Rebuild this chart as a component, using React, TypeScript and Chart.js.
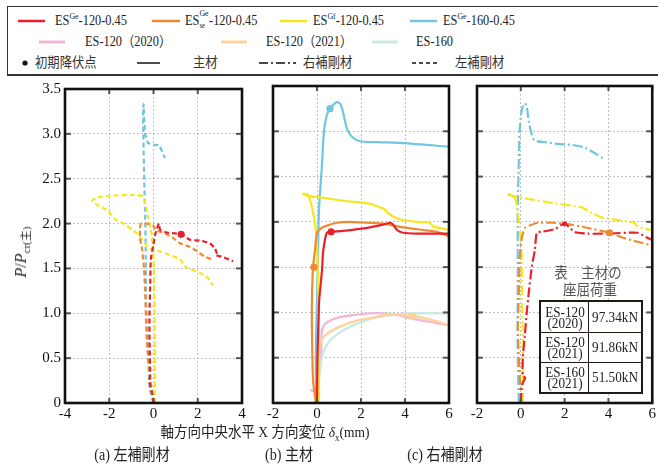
import React, { useEffect, useRef } from 'react';
import { Chart, registerables } from 'chart.js';

Chart.register(...registerables);

type P = [number, number];

// ---------- (a) 左補剛材 (dashed) ----------
const aBlue: P[] = [[0, 0], [-0.16, 0.14], [-0.25, 0.5], [-0.3, 0.88], [-0.34, 1.25], [-0.35, 1.6], [-0.37, 2.0], [-0.42, 2.5], [-0.46, 3.0], [-0.47, 3.25], [-0.45, 3.33], [-0.38, 3.01], [-0.25, 2.9], [0.0, 2.88], [0.25, 2.87], [0.52, 2.73]];
const aYellow: P[] = [[0.07, 0], [0.07, 0.5], [0.05, 1.0], [0.02, 1.5], [-0.07, 1.85], [-0.25, 2.08], [-0.47, 2.3], [-0.93, 2.32], [-1.97, 2.31], [-2.56, 2.29], [-2.78, 2.25], [-2.56, 2.21], [-2.1, 2.15], [-1.74, 2.05], [-1.29, 1.99], [-0.75, 1.89], [-0.16, 1.72], [0.29, 1.69], [1.2, 1.6], [1.43, 1.52], [2.1, 1.45], [2.47, 1.39], [2.69, 1.31]];
const aOrange: P[] = [[0, 0], [-0.07, 0.1], [-0.3, 0.7], [-0.38, 1.25], [-0.43, 1.5], [-0.52, 1.72], [-0.61, 1.83], [-0.61, 1.93], [-0.57, 2.0], [-0.29, 2.0], [-0.02, 1.98], [0.1, 1.93], [0.52, 1.89], [0.84, 1.85], [1.2, 1.78], [1.65, 1.74], [1.97, 1.69], [2.33, 1.63], [2.65, 1.6]];
const aRed: P[] = [[0, 0], [-0.05, 0.1], [-0.2, 0.25], [-0.15, 0.3], [-0.18, 0.7], [-0.18, 1.0], [-0.15, 1.3], [-0.12, 1.6], [0.0, 1.77], [0.1, 1.9], [0.25, 2.0], [0.3, 1.93], [0.6, 1.9], [1.0, 1.89], [1.25, 1.88], [1.65, 1.82], [2.1, 1.81], [2.55, 1.78], [2.78, 1.72], [2.85, 1.67], [2.78, 1.65], [3.1, 1.63], [3.6, 1.58]];
const aDots: P[] = [[1.25, 1.88]];

// ---------- (b) 主材 (solid) ----------
const bBlue: P[] = [[-0.05, 0], [-0.05, 0.58], [0, 1.14], [0.05, 1.69], [0.09, 2.13], [0.23, 2.65], [0.32, 3.01], [0.45, 3.18], [0.59, 3.25], [0.82, 3.31], [0.95, 3.32], [1.09, 3.29], [1.23, 3.16], [1.36, 3.03], [1.59, 2.94], [1.95, 2.89], [2.73, 2.88], [3.91, 2.87], [6.0, 2.83]];
const bYellow: P[] = [[0.09, 0], [0.09, 0.5], [0.07, 1.0], [0.03, 1.5], [0, 1.75], [-0.05, 1.91], [-0.14, 2.05], [-0.23, 2.16], [-0.41, 2.3], [-0.64, 2.31], [-0.45, 2.29], [0.14, 2.27], [1.3, 2.23], [2.41, 2.2], [2.86, 2.16], [3.0, 2.15], [3.23, 2.1], [3.45, 2.06], [3.91, 2.02], [4.55, 2.0], [5.14, 1.99], [5.27, 1.95], [6.0, 1.91]];
const bOrange: P[] = [[-0.05, 0], [-0.18, 0.25], [-0.23, 0.8], [-0.23, 1.14], [-0.18, 1.5], [-0.09, 1.69], [-0.05, 1.8], [0, 1.88], [0.14, 1.92], [0.36, 1.95], [0.91, 1.99], [1.5, 2.0], [2.27, 1.99], [3.0, 1.98], [3.91, 1.94], [4.82, 1.91], [5.45, 1.89], [6.0, 1.84]];
const bRed: P[] = [[0, 0], [0.02, 0.5], [0.08, 1.0], [0.1, 1.14], [0.23, 1.47], [0.27, 1.65], [0.36, 1.8], [0.45, 1.88], [0.64, 1.89], [1.18, 1.9], [2.41, 1.94], [3.0, 1.97], [3.32, 1.99], [3.45, 1.97], [3.64, 1.91], [3.91, 1.88], [4.55, 1.87], [6.0, 1.87]];
const bPink: P[] = [[-0.3, 0.14], [-0.08, 0.14], [0.05, 0.3], [0.18, 0.55], [0.22, 0.78], [0.3, 0.85], [0.45, 0.89], [0.91, 0.94], [1.6, 0.97], [2.4, 0.99], [3.0, 0.99], [3.64, 0.97], [4.55, 0.92], [6.0, 0.86]];
const bPeach: P[] = [[0.05, 0], [0.05, 0.3], [0.07, 0.5], [0.1, 0.62], [0.27, 0.72], [0.91, 0.83], [1.82, 0.91], [2.73, 0.95], [3.45, 0.98], [4.36, 0.96], [5.0, 0.93], [6.0, 0.86]];
const bCyan: P[] = [[0.02, 0], [0.07, 0.2], [0.14, 0.36], [0.27, 0.55], [0.59, 0.69], [1.18, 0.8], [1.95, 0.89], [2.73, 0.95], [3.45, 0.97], [4.2, 0.99], [6.0, 0.99]];
const bDotsBlue: P[] = [[0.59, 3.25]];
const bDotsRed: P[] = [[0.64, 1.89]];
const bDotsOrange: P[] = [[-0.14, 1.5]];
const bDotsPeach: P[] = [[4.36, 0.96]];

// ---------- (c) 右補剛材 (dash-dot) ----------
const cBlue: P[] = [[-0.09, 0], [-0.14, 0.58], [-0.14, 1.69], [-0.14, 2.1], [-0.1, 2.6], [-0.05, 3.01], [0.05, 3.24], [0.18, 3.31], [0.27, 3.27], [0.36, 3.12], [0.5, 2.96], [0.64, 2.9], [1.09, 2.88], [1.68, 2.86], [2.32, 2.85], [2.91, 2.82], [3.36, 2.76], [3.82, 2.69]];
const cYellow: P[] = [[0.09, 0], [0.09, 0.5], [0.09, 0.8], [0.05, 1.2], [0.05, 1.55], [-0.05, 1.94], [-0.14, 2.1], [-0.23, 2.24], [-0.41, 2.3], [-0.64, 2.31], [-0.41, 2.29], [0.18, 2.26], [1.68, 2.2], [2.77, 2.16], [3.23, 2.1], [3.68, 2.05], [4.41, 2.02], [5.18, 1.99], [5.32, 1.95], [5.73, 1.92], [6.0, 1.91]];
const cOrange: P[] = [[0, 0], [-0.05, 0.3], [-0.14, 0.8], [-0.09, 1.2], [-0.05, 1.6], [0.05, 1.83], [0.18, 1.93], [0.41, 1.96], [0.77, 1.99], [1.41, 1.99], [2.0, 1.98], [2.91, 1.94], [4.05, 1.88], [4.73, 1.82], [5.32, 1.78], [6.0, 1.74]];
const cRed: P[] = [[0, 0], [0.05, 0.2], [0.2, 0.28], [0.09, 0.3], [0.09, 0.5], [0.18, 0.73], [0.27, 1.0], [0.36, 1.21], [0.5, 1.5], [0.64, 1.69], [0.73, 1.88], [0.95, 1.89], [1.55, 1.92], [2.0, 1.98], [2.45, 1.89], [3.05, 1.87], [3.95, 1.87], [5.32, 1.88], [5.73, 1.83], [6.0, 1.8]];
const cDotsOrange: P[] = [[4.05, 1.88]];
const cDotsRed: P[] = [[2.0, 1.98]];

// ---------- axes ----------
const yMin = 0, yMax = 3.5, yStep = 0.5;
const aXRange: P = [-4, 4];
const bcXRange: P = [-2, 6];
const xStep = 2;

// ---------- inset table ----------
const tableNames = [['ES-120', '(2020)'], ['ES-120', '(2021)'], ['ES-160', '(2021)']];
const tableLoads = ['97.34kN', '91.86kN', '51.50kN'];

const COL = {
  red: '#e8212b',
  orange: '#f08a32',
  yellow: '#f6e61e',
  blue: '#70c6e1',
  pink: '#f0b8d6',
  peach: '#fcd39c',
  cyan: '#c8eae4',
};

const FONT = "'Liberation Serif', 'Noto Sans CJK JP', serif";

type LineDef = { data: P[]; color: string; width?: number; tension?: number };
type DotDef = { data: P[]; color: string; r?: number };

const framePlugin = {
  id: 'frame',
  afterDraw(chart: any) {
    const { ctx, chartArea } = chart;
    const { left, right, top, bottom } = chartArea;
    const x = chart.scales.x;
    const y = chart.scales.y;
    ctx.save();
    ctx.strokeStyle = '#555';
    ctx.lineWidth = 2;
    ctx.setLineDash([]);
    const seg = (x1: number, y1: number, x2: number, y2: number) => {
      ctx.beginPath();
      ctx.moveTo(x1, y1);
      ctx.lineTo(x2, y2);
      ctx.stroke();
    };
    x.ticks.forEach((t: any) => {
      const px = x.getPixelForValue(t.value);
      seg(px, bottom, px, bottom - 5);
      seg(px, top, px, top + 5);
    });
    y.ticks.forEach((t: any) => {
      const py = y.getPixelForValue(t.value);
      seg(left, py, left + 6, py);
      seg(right, py, right - 6, py);
    });
    ctx.strokeStyle = '#111';
    ctx.lineWidth = 2.6;
    ctx.strokeRect(left, top, right - left, bottom - top);
    ctx.restore();
  },
};

function Panel(props: {
  left: number; top: number; width: number; height: number;
  pad: { left: number; right: number; top: number; bottom: number };
  yWidth: number; showY: boolean; xr: P; dash: number[];
  lines: LineDef[]; dots: DotDef[];
}) {
  const ref = useRef<HTMLCanvasElement>(null);
  useEffect(() => {
    const { pad, yWidth, showY, xr, dash, lines, dots } = props;
    const tickFont = { family: "'Liberation Serif', serif", size: 15 };
    const datasets: any[] = [
      ...dots.map((d) => ({
        data: d.data.map(([x, y]) => ({ x, y })),
        showLine: false,
        pointRadius: d.r ?? 3.6,
        pointBackgroundColor: d.color,
        pointBorderColor: d.color,
        pointBorderWidth: 0,
        order: 0,
      })),
      ...lines.map((l, i) => ({
        data: l.data.map(([x, y]) => ({ x, y })),
        showLine: true,
        borderColor: l.color,
        borderWidth: l.width ?? 2.2,
        borderDash: dash,
        pointRadius: 0,
        fill: false,
        tension: l.tension ?? 0.2,
        order: 1 + i,
      })),
    ];
    const grid = { color: '#c2c2c2', lineWidth: 1, drawTicks: false };
    const chart = new Chart(ref.current as HTMLCanvasElement, {
      type: 'scatter',
      data: { datasets },
      plugins: [framePlugin],
      options: {
        animation: false,
        responsive: false,
        events: [],
        layout: { padding: pad },
        plugins: { legend: { display: false }, tooltip: { enabled: false } },
        scales: {
          x: {
            type: 'linear', min: xr[0], max: xr[1],
            ticks: { stepSize: xStep, font: tickFont, color: '#111', padding: 2, maxRotation: 0, autoSkip: false },
            grid, border: { display: false, dash: [2, 2] },
            afterFit: (s: any) => { s.height = 22; },
          },
          y: {
            type: 'linear', min: yMin, max: yMax,
            ticks: { stepSize: yStep, display: showY, font: tickFont, color: '#111', padding: 4, autoSkip: false },
            grid, border: { display: false, dash: [2, 2] },
            afterFit: (s: any) => { s.width = yWidth; },
          },
        },
      } as any,
    });
    return () => chart.destroy();
  }, []);
  return (
    <canvas
      ref={ref}
      width={props.width}
      height={props.height}
      style={{ position: 'absolute', left: props.left, top: props.top, width: props.width, height: props.height }}
    />
  );
}

function Label(props: { x: number; y: number; size?: number; sx?: number; center?: boolean; color?: string; children: any; style?: any }) {
  const { x, y, size = 14, sx = 0.88, center = false, color = '#222', children, style } = props;
  return (
    <div
      style={{
        position: 'absolute', left: x, top: y, fontSize: size, lineHeight: 1, whiteSpace: 'nowrap',
        color, fontFamily: FONT,
        transform: `translate(${center ? '-50%' : '0'},-50%) scaleX(${sx})`,
        transformOrigin: center ? 'center' : 'left center',
        ...style,
      }}
    >
      {children}
    </div>
  );
}

const Sup = ({ t }: { t: string }) => (
  <span style={{ fontSize: 9, position: 'relative', top: -6 }}>{t}</span>
);

export default function App() {
  const padA = { left: 10, right: 12, top: 10, bottom: 2 };
  const padB = { left: 12, right: 12, top: 10, bottom: 2 };
  const padC = { left: 12, right: 5, top: 10, bottom: 2 };
  return (
    <div style={{ position: 'fixed', left: 0, top: 0, width: 658, height: 468, overflow: 'hidden', background: '#fff', fontFamily: FONT }}>
      {/* legend box */}
      <div style={{ position: 'absolute', left: 7, top: 6, width: 670, height: 70, border: '1px solid #333', borderBottom: '2px solid #333', boxSizing: 'border-box' }} />
      <svg width={658} height={80} style={{ position: 'absolute', left: 0, top: 0 }}>
        <line x1={18} y1={21} x2={45} y2={21} stroke={COL.red} strokeWidth={2.5} />
        <line x1={152} y1={21} x2={180} y2={21} stroke={COL.orange} strokeWidth={2.5} />
        <line x1={280} y1={21} x2={307} y2={21} stroke={COL.yellow} strokeWidth={2.5} />
        <line x1={410} y1={21} x2={437} y2={21} stroke={COL.blue} strokeWidth={2.5} />
        <line x1={39} y1={42} x2={65} y2={42} stroke={COL.pink} strokeWidth={3} />
        <line x1={221} y1={42} x2={247} y2={42} stroke={COL.peach} strokeWidth={3} />
        <line x1={372} y1={42} x2={398} y2={42} stroke={COL.cyan} strokeWidth={3} />
        <circle cx={25} cy={63} r={2.6} fill="#111" />
        <line x1={137} y1={63} x2={160} y2={63} stroke="#111" strokeWidth={1.5} />
        <line x1={259} y1={63} x2={296} y2={63} stroke="#111" strokeWidth={1.5} strokeDasharray="9 3 2 3" />
        <line x1={412} y1={63} x2={440} y2={63} stroke="#111" strokeWidth={1.5} strokeDasharray="4 3" />
      </svg>
      <Label x={55} y={21}>ES<Sup t="Ge" />-120-0.45</Label>
      <Label x={185} y={21}>
        ES
        <span style={{ display: 'inline-block', position: 'relative', width: 11, height: 14, verticalAlign: 'top' }}>
          <span style={{ position: 'absolute', left: 0, top: -5, fontSize: 9 }}>Ge</span>
          <span style={{ position: 'absolute', left: 0, top: 8, fontSize: 8 }}>se</span>
        </span>
        -120-0.45
      </Label>
      <Label x={313} y={21}>ES<Sup t="Gf" />-120-0.45</Label>
      <Label x={443} y={21}>ES<Sup t="Ge" />-160-0.45</Label>
      <Label x={85} y={42}>ES-120（2020）</Label>
      <Label x={266} y={42}>ES-120（2021）</Label>
      <Label x={416} y={42}>ES-160</Label>
      <Label x={35} y={63} color="#333">初期降伏点</Label>
      <Label x={193} y={63} color="#333">主材</Label>
      <Label x={303} y={63} color="#333">右補剛材</Label>
      <Label x={455} y={63} color="#333">左補剛材</Label>

      {/* panels */}
      <Panel
        left={14} top={76} width={240} height={351} pad={padA} yWidth={41} showY={true} xr={aXRange} dash={[5, 3]}
        lines={[
          { data: aRed, color: COL.red },
          { data: aOrange, color: COL.orange },
          { data: aYellow, color: COL.yellow },
          { data: aBlue, color: COL.blue },
        ]}
        dots={[{ data: aDots, color: COL.red }]}
      />
      <Panel
        left={261} top={76} width={200} height={351} pad={padB} yWidth={0} showY={false} xr={bcXRange} dash={[]}
        lines={[
          { data: bRed, color: COL.red },
          { data: bOrange, color: COL.orange },
          { data: bYellow, color: COL.yellow },
          { data: bBlue, color: COL.blue, tension: 0.3 },
          { data: bPeach, color: COL.peach, width: 2.4, tension: 0.3 },
          { data: bCyan, color: COL.cyan, width: 2.4, tension: 0.3 },
          { data: bPink, color: COL.pink, width: 2.4, tension: 0.3 },
        ]}
        dots={[
          { data: bDotsBlue, color: COL.blue },
          { data: bDotsRed, color: COL.red },
          { data: bDotsOrange, color: COL.orange },
          { data: bDotsPeach, color: COL.peach },
        ]}
      />
      <Panel
        left={465} top={76} width={193} height={351} pad={padC} yWidth={0} showY={false} xr={bcXRange} dash={[10, 3, 2, 3]}
        lines={[
          { data: cRed, color: COL.red },
          { data: cOrange, color: COL.orange },
          { data: cYellow, color: COL.yellow },
          { data: cBlue, color: COL.blue, tension: 0.3 },
        ]}
        dots={[
          { data: cDotsOrange, color: COL.orange },
          { data: cDotsRed, color: COL.red, r: 2.5 },
        ]}
      />

      {/* y title */}
      <div style={{ position: 'absolute', left: 21, top: 252, transform: 'translate(-50%,-50%) rotate(-90deg)', fontSize: 16, whiteSpace: 'nowrap', lineHeight: 1, color: '#222' }}>
        <i>P</i>/<i>P</i><span style={{ fontSize: 11, position: 'relative', top: 4 }}>cr(主)</span>
      </div>

      {/* x title and captions */}
      <Label x={265} y={432} size={15} sx={0.9} center={true}>
        軸方向中央水平 X 方向変位 <i>δ</i><span style={{ fontSize: 10, position: 'relative', top: 4 }}>x</span>(mm)
      </Label>
      <Label x={132} y={455} size={16} sx={0.88} center={true}>(a) 左補剛材</Label>
      <Label x={289} y={455} size={16} sx={0.88} center={true}>(b) 主材</Label>
      <Label x={445} y={455} size={16} sx={0.88} center={true}>(c) 右補剛材</Label>

      {/* inset table */}
      <Label x={588} y={273} size={15} sx={0.9} center={true} color="#555">表　主材の</Label>
      <Label x={590} y={290} size={15} sx={0.9} center={true} color="#555">座屈荷重</Label>
      <div style={{ position: 'absolute', left: 539, top: 300, width: 104, height: 94, background: '#fff', border: '2px solid #231815', boxSizing: 'border-box' }}>
        {tableNames.map((nm, i) => (
          <div key={i} style={{ position: 'absolute', left: 0, top: i * 30, width: 100, height: 30, borderTop: i > 0 ? '1.5px solid #231815' : 'none', boxSizing: 'border-box' }}>
            <div style={{ position: 'absolute', left: 0, top: 0, width: 48, height: '100%', borderRight: '1.5px solid #231815', boxSizing: 'border-box' }} />
            <Label x={24} y={i > 0 ? 9 : 10} size={15} sx={0.88} center={true} color="#222">{nm[0]}</Label>
            <Label x={24} y={i > 0 ? 20 : 21} size={15} sx={0.88} center={true} color="#222">{nm[1]}</Label>
            <Label x={74} y={i > 0 ? 14 : 15} size={15} sx={0.88} center={true} color="#222">{tableLoads[i]}</Label>
          </div>
        ))}
      </div>
    </div>
  );
}
